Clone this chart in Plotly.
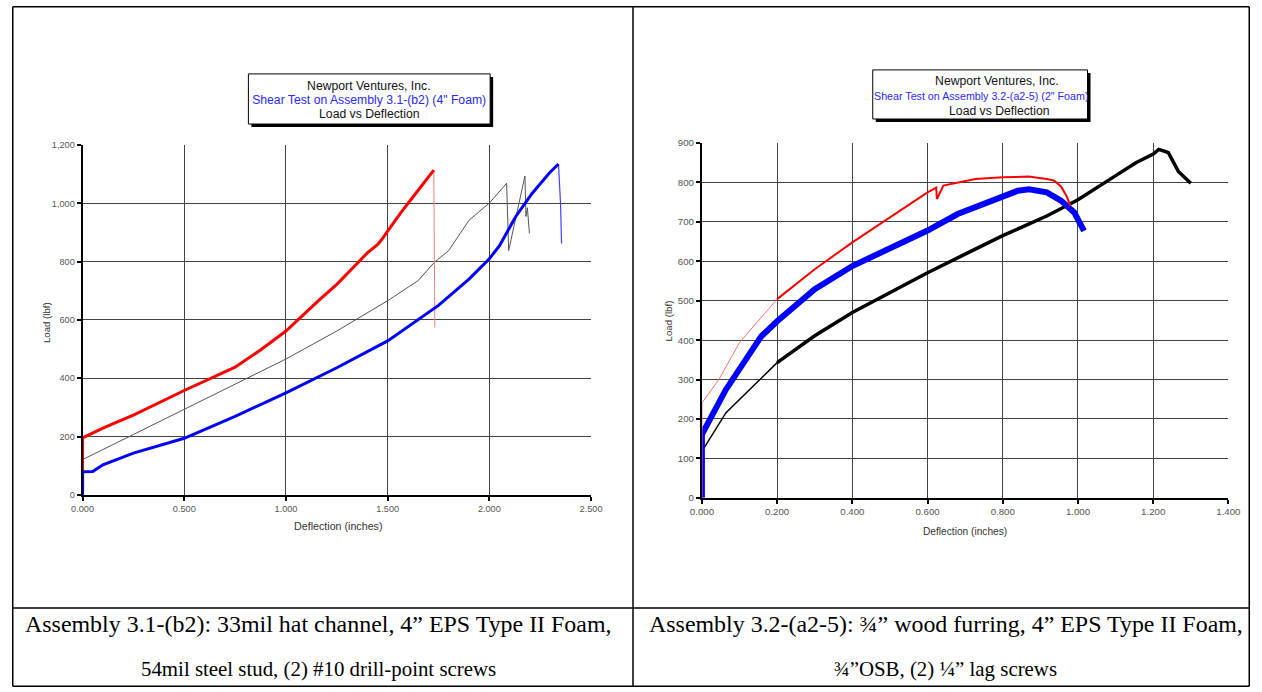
import plotly.graph_objects as go

# ---------------- Left chart data (Assembly 3.1-(b2)) ----------------
L_red_x = [0, 0, 0.1, 0.255, 0.5, 0.62, 0.75, 0.875, 1.0, 1.16, 1.25, 1.32, 1.40, 1.45, 1.47, 1.50, 1.565, 1.65, 1.727]
L_red_y = [0, 195, 229, 275, 358, 396, 438, 497, 562, 666, 722, 772, 830, 858, 875, 905, 968, 1045, 1114]
L_red_drop_x = [1.727, 1.732]
L_red_drop_y = [1114, 574]

L_gray_x = [0, 0, 0.25, 0.5, 0.75, 1.0, 1.25, 1.5, 1.65, 1.73, 1.80, 1.90, 2.0, 2.085, 2.095, 2.175, 2.18, 2.187, 2.197]
L_gray_y = [0, 121, 207, 293, 379, 466, 562, 666, 735, 798, 838, 942, 1001, 1069, 838, 1094, 955, 985, 897]

L_blue_x = [0, 0, 0.05, 0.1, 0.25, 0.5, 0.75, 1.0, 1.25, 1.5, 1.75, 1.9, 2.0, 2.05, 2.13, 2.21, 2.295, 2.34]
L_blue_y = [0, 79, 80, 103, 143, 194, 269, 350, 436, 528, 650, 740, 810, 855, 955, 1034, 1104, 1135]
L_blue_drop_x = [2.34, 2.35, 2.355]
L_blue_drop_y = [1135, 1000, 862]

# ---------------- Right chart data (Assembly 3.2-(a2-5)) ----------------
R_red_x = [0, 0, 0.045, 0.10, 0.2, 0.3, 0.4, 0.5, 0.6, 0.623, 0.625, 0.642, 0.727, 0.8, 0.869, 0.917, 0.936, 0.955, 0.97, 0.98]
R_red_y = [0, 241, 300, 394, 504, 580, 648, 711, 775, 787, 758, 792, 809, 813, 815, 809, 805, 790, 765, 740]

R_blue_x = [0, 0, 0.064, 0.158, 0.2, 0.3, 0.4, 0.5, 0.6, 0.68, 0.8, 0.84, 0.87, 0.917, 0.955, 0.99, 1.016]
R_blue_y = [0, 161, 275, 410, 448, 529, 588, 631, 678, 720, 766, 779, 783, 775, 754, 724, 677]

R_black_x = [0, 0.064, 0.2, 0.3, 0.4, 0.5, 0.6, 0.708, 0.8, 0.917, 1.0, 1.09, 1.154, 1.2, 1.215, 1.24, 1.267, 1.30]
R_black_y = [118, 216, 343, 411, 470, 521, 571, 622, 665, 715, 756, 811, 850, 872, 884, 876, 828, 798]

# ---------------- Text ----------------
L_title = ["Newport Ventures, Inc.", "Shear Test on Assembly 3.1-(b2) (4\" Foam)", "Load vs Deflection"]
R_title = ["Newport Ventures, Inc.", "Shear Test on Assembly 3.2-(a2-5) (2\" Foam)", "Load vs Deflection"]
x_title = "Deflection (inches)"
y_title = "Load (lbf)"
L_caption = ["Assembly 3.1-(b2): 33mil hat channel, 4\u201d EPS Type II Foam,",
             "54mil steel stud, (2) #10 drill-point screws"]
R_caption = ["Assembly 3.2-(a2-5): \u00be\u201d wood furring, 4\u201d EPS Type II Foam,",
             "\u00be\u201dOSB, (2) \u00bc\u201d lag screws"]

W, H = 1262, 692
# the captured picture comes out slightly shrunk about its centre; compensate
S = 0.982
CX, CY = 631, 346


def tx(x):
    return CX + (x - CX) / S


def ty(y):
    return CY + (y - CY) / S


def px(x):
    return min(max(tx(x), 0.75), W - 0.75) / W


def py(y):
    return 1 - min(max(ty(y), 0.75), H - 0.75) / H


def fs(size):
    return size / S


fig = go.Figure()

# Left traces
fig.add_trace(go.Scatter(x=L_gray_x, y=L_gray_y, mode="lines", line=dict(color="#555555", width=1), xaxis="x", yaxis="y"))
fig.add_trace(go.Scatter(x=L_red_drop_x, y=L_red_drop_y, mode="lines", line=dict(color="#f08080", width=1), xaxis="x", yaxis="y"))
fig.add_trace(go.Scatter(x=L_red_x, y=L_red_y, mode="lines", line=dict(color="#ff0000", width=3), xaxis="x", yaxis="y"))
fig.add_trace(go.Scatter(x=L_blue_drop_x, y=L_blue_drop_y, mode="lines", line=dict(color="#4040ff", width=1.2), xaxis="x", yaxis="y"))
fig.add_trace(go.Scatter(x=L_blue_x, y=L_blue_y, mode="lines", line=dict(color="#0000ff", width=3), xaxis="x", yaxis="y"))

# Right traces
fig.add_trace(go.Scatter(x=R_black_x[:3], y=R_black_y[:3], mode="lines", line=dict(color="#000000", width=1.5), xaxis="x2", yaxis="y2"))
fig.add_trace(go.Scatter(x=R_black_x[2:], y=R_black_y[2:], mode="lines", line=dict(color="#000000", width=3.5), xaxis="x2", yaxis="y2"))
fig.add_trace(go.Scatter(x=R_blue_x, y=R_blue_y, mode="lines", line=dict(color="#0000ff", width=6), xaxis="x2", yaxis="y2"))
fig.add_trace(go.Scatter(x=R_red_x[:5], y=R_red_y[:5], mode="lines", line=dict(color="#ff7070", width=1), xaxis="x2", yaxis="y2"))
fig.add_trace(go.Scatter(x=R_red_x[4:], y=R_red_y[4:], mode="lines", line=dict(color="#ff0000", width=2), xaxis="x2", yaxis="y2"))


def axis_common(size):
    return dict(
        showgrid=True, gridcolor="#444444", gridwidth=1,
        showline=True, linecolor="#000000", linewidth=2, mirror=False,
        ticks="outside", ticklen=4, tickwidth=2, tickcolor="#000000",
        zeroline=False, tickfont=dict(family="Arial, Liberation Sans", size=fs(size), color="#555555"),
        fixedrange=True,
    )


fig.update_layout(
    width=W, height=H,
    margin=dict(l=0, r=0, t=0, b=0),
    paper_bgcolor="white", plot_bgcolor="white",
    showlegend=False,
    xaxis=dict(domain=[px(82), px(591)], range=[0, 2.5], tick0=0, dtick=0.5, tickformat=".3f", anchor="y", **axis_common(9)),
    yaxis=dict(domain=[py(494), py(145)], range=[0, 1200], tick0=0, dtick=200, tickformat=",d", anchor="x", **axis_common(9)),
    xaxis2=dict(domain=[px(702), px(1229)], range=[0, 1.4], tick0=0, dtick=0.2, tickformat=".3f", anchor="y2", **axis_common(9.5)),
    yaxis2=dict(domain=[py(497), py(143)], range=[0, 900], tick0=0, dtick=100, tickformat="d", anchor="x2", **axis_common(9.5)),
)

shapes = []
# table borders
line_style = dict(color="black", width=1.5)
for (x0, y0, x1, y1) in [(3, 3, 1259, 3), (3, 689, 1259, 689), (3, 607, 1259, 607),
                          (3, 3, 3, 689), (633, 3, 633, 689), (1259, 3, 1259, 689)]:
    shapes.append(dict(type="line", xref="paper", yref="paper", x0=px(x0), y0=py(y0), x1=px(x1), y1=py(y1), line=line_style))

# title boxes with shadow
for (x0, y0, x1, y1) in [(248, 74, 490, 124), (873, 70, 1088, 119)]:
    shapes.append(dict(type="rect", xref="paper", yref="paper", x0=px(x0 + 3), y0=py(y1 + 3), x1=px(x1 + 3), y1=py(y0 + 3),
                       fillcolor="black", line=dict(width=0), layer="above"))
    shapes.append(dict(type="rect", xref="paper", yref="paper", x0=px(x0), y0=py(y1), x1=px(x1), y1=py(y0),
                       fillcolor="white", line=dict(color="black", width=1), layer="above"))
fig.update_layout(shapes=shapes)

ann = []
title_font = "Arial, Liberation Sans"


def add_text(x, y, text, size, color, family=title_font, angle=0):
    ann.append(dict(xref="paper", yref="paper", x=px(x), y=py(y), text=text, showarrow=False,
                    xanchor="center", yanchor="middle", textangle=angle,
                    font=dict(family=family, size=fs(size), color=color)))


# chart titles
add_text(369, 86, L_title[0], 12, "#111111")
add_text(369, 100, L_title[1], 12, "#2a2aff")
add_text(369, 114, L_title[2], 12, "#111111")
add_text(997, 81, R_title[0], 12, "#111111")
add_text(981, 96, R_title[1], 10.5, "#2a2aff")
add_text(1000, 111, R_title[2], 12, "#111111")

# axis titles
add_text(338, 525, x_title, 10.5, "#333333")
add_text(965, 531, x_title, 10, "#333333")
add_text(46, 322, y_title, 9.5, "#333333", angle=-90)
add_text(668, 320, y_title, 9.5, "#333333", angle=-90)

# captions
cap_family = "Times New Roman, Liberation Serif, serif"
for cx, lines in [(318, L_caption), (946, R_caption)]:
    add_text(cx, 623, lines[0], 23.5, "black", family=cap_family)
    add_text(cx, 668, lines[1], 20.5, "black", family=cap_family)

fig.update_layout(annotations=ann)

fig.write_html("out.html")
